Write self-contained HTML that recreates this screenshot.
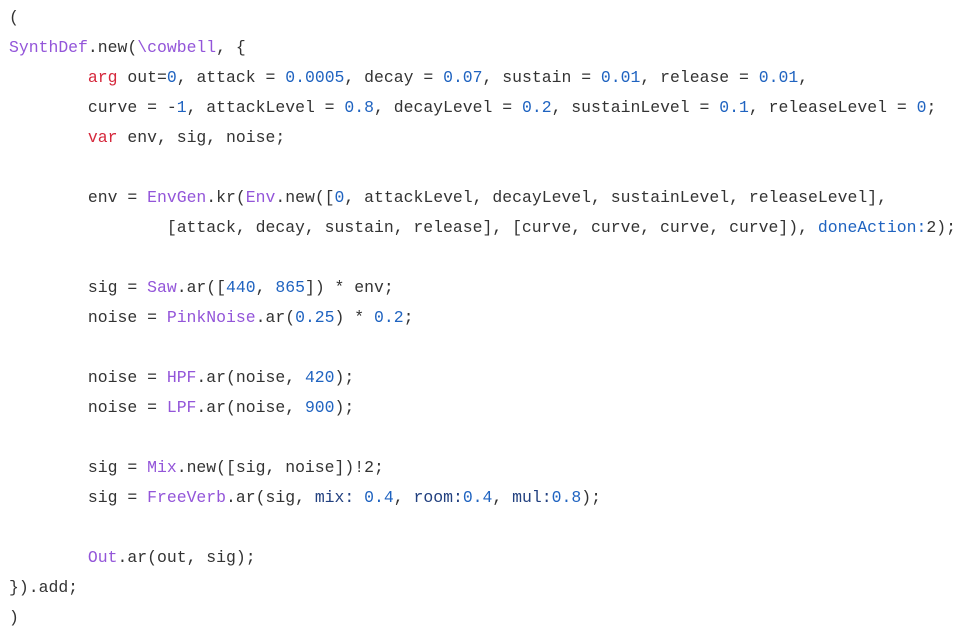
<!DOCTYPE html>
<html><head><meta charset="utf-8"><style>
html,body{margin:0;padding:0;background:#fff;width:973px;height:638px;overflow:hidden}
pre{margin:0;position:absolute;left:9px;top:3px;font-family:"Liberation Mono",monospace;font-size:16.45px;line-height:30px;color:#333}
.c{color:#9355d9}.k{color:#d5283c}.n{color:#1f63c0}.l{color:#22407f}
</style></head><body><pre>(
<span class="c">SynthDef</span>.new(<span class="c">\cowbell</span>, {
        <span class="k">arg</span> out=<span class="n">0</span>, attack = <span class="n">0.0005</span>, decay = <span class="n">0.07</span>, sustain = <span class="n">0.01</span>, release = <span class="n">0.01</span>,
        curve = -<span class="n">1</span>, attackLevel = <span class="n">0.8</span>, decayLevel = <span class="n">0.2</span>, sustainLevel = <span class="n">0.1</span>, releaseLevel = <span class="n">0</span>;
        <span class="k">var</span> env, sig, noise;

        env = <span class="c">EnvGen</span>.kr(<span class="c">Env</span>.new([<span class="n">0</span>, attackLevel, decayLevel, sustainLevel, releaseLevel],
                [attack, decay, sustain, release], [curve, curve, curve, curve]), <span class="n">doneAction:</span>2);

        sig = <span class="c">Saw</span>.ar([<span class="n">440</span>, <span class="n">865</span>]) * env;
        noise = <span class="c">PinkNoise</span>.ar(<span class="n">0.25</span>) * <span class="n">0.2</span>;

        noise = <span class="c">HPF</span>.ar(noise, <span class="n">420</span>);
        noise = <span class="c">LPF</span>.ar(noise, <span class="n">900</span>);

        sig = <span class="c">Mix</span>.new([sig, noise])!2;
        sig = <span class="c">FreeVerb</span>.ar(sig, <span class="l">mix:</span> <span class="n">0.4</span>, <span class="l">room:</span><span class="n">0.4</span>, <span class="l">mul:</span><span class="n">0.8</span>);

        <span class="c">Out</span>.ar(out, sig);
}).add;
)</pre></body></html>
